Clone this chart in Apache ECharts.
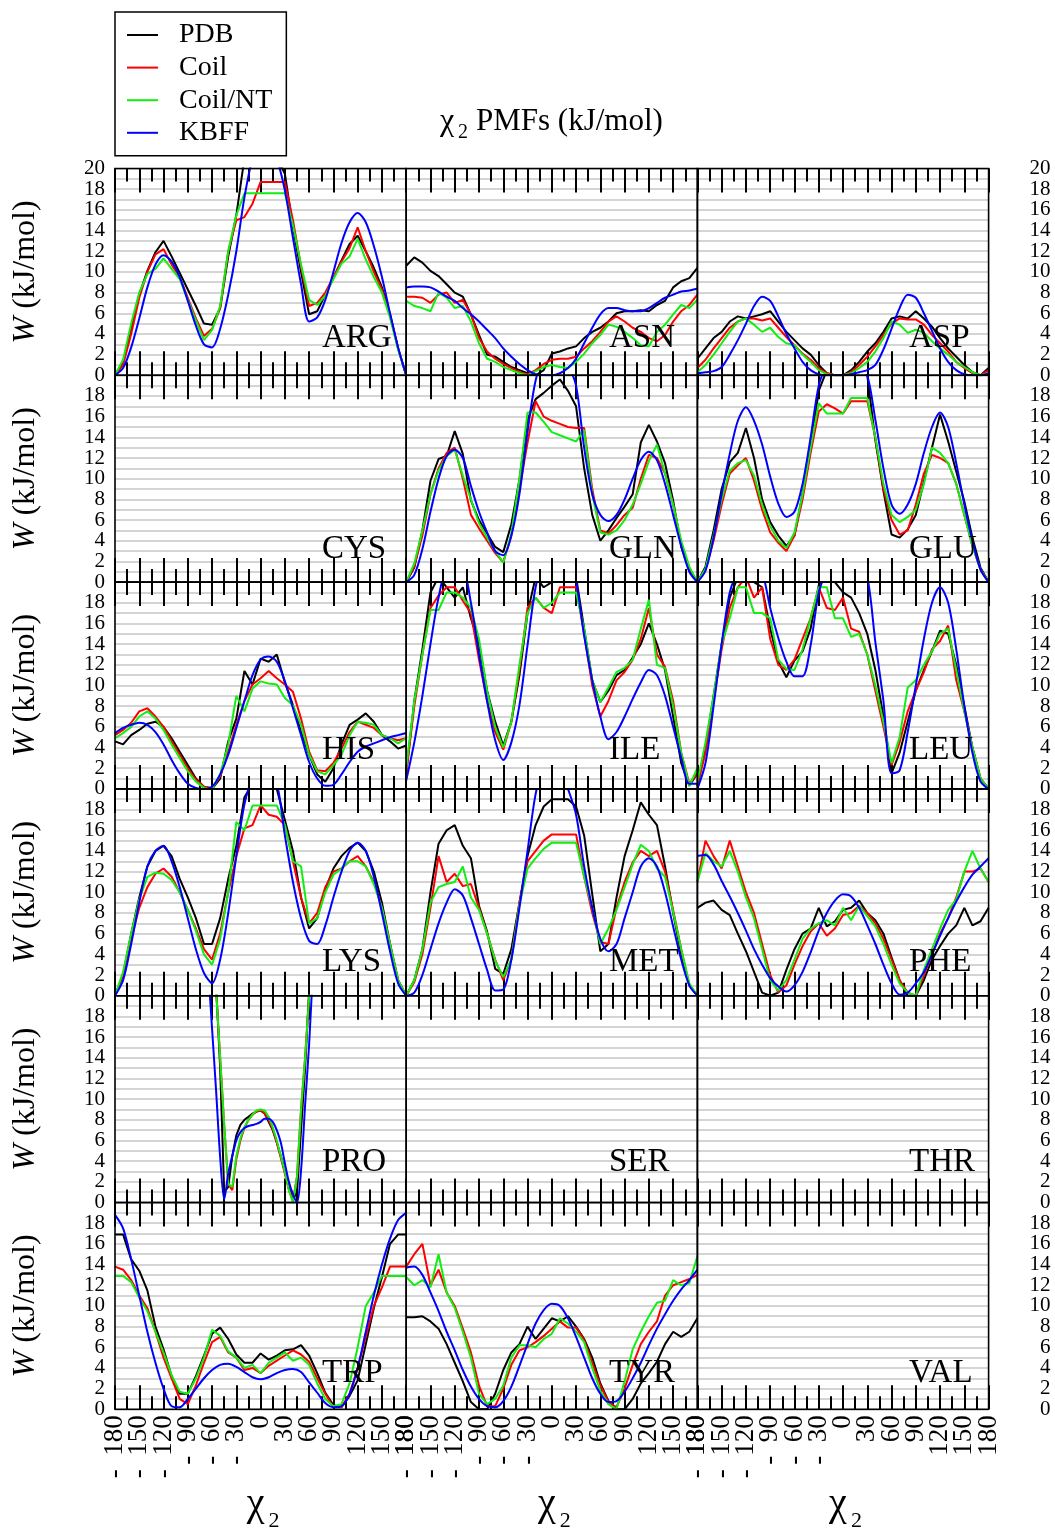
<!DOCTYPE html>
<html>
<head>
<meta charset="utf-8">
<script src="https://cdn.jsdelivr.net/npm/echarts@6/dist/echarts.min.js"></script>
<style>
  html, body { margin: 0; padding: 0; background: #fff; }
  #chart { width: 1055px; height: 1529px; }
</style>
</head>
<body>
<div id="chart"></div>
<script>
// chi2 angles (deg) used for the sampled curves
const chi = [-180,-170,-160,-150,-140,-130,-120,-110,-100,-90,-80,-70,-60,-50,-40,-30,-20,-10,0,
             10,20,30,40,50,60,70,80,90,100,110,120,130,140,150,160,170,180];
// proline only has a narrow window, sampled finer
const chiPro = [-70,-65,-60,-55,-50,-45,-40,-35,-30,-25,-20,-15,-10,-5,0,5,10,15,20,25,30,35,40,45,50,55,60,65,70];

const seriesNames = ['PDB', 'Coil', 'Coil/NT', 'KBFF'];
const residues = ['ARG','ASN','ASP','CYS','GLN','GLU','HIS','ILE','LEU','LYS','MET','PHE','PRO','SER','THR','TRP','TYR','VAL'];

// ---- W (kJ/mol) values ----
const argPdb    = [0,1.3,4.6,7.8,10.1,11.9,13.0,11.5,9.9,8.3,6.7,5.0,4.9,6.5,11.5,15.5,21,22,22,22,21,19.5,14.3,10,5.9,6.2,7.8,9.4,11.1,12.7,13.5,12,10.4,8.5,5.9,2.6,0];
const argCoil   = [0,1,4,7.5,10,11.7,12.2,10.7,9.5,7.5,5.5,3.8,4.5,6.5,12,15,15.3,16.6,18.7,18.7,18.7,18.7,15,10.5,6.7,7,8,9.5,11,12.3,14.3,12,10,8.3,5.8,2.6,0];
const argCoilNt = [0,1.5,5,8,9.8,10.3,11.3,10.3,9.3,7.3,5.3,3.4,4.4,6.7,12,15.5,17.6,17.6,17.6,17.6,17.6,17.6,14.5,10.7,7.3,6.8,7.7,9.3,10.8,11.5,13.2,11.2,9.5,8,5.6,2.5,0];
const argKbff   = [0,0.7,2.7,5.5,8.5,10.7,11.6,11,9.5,7.2,4.8,3.0,2.7,4.5,7.8,12,17.2,21,23,23,21,17.9,13.3,8.8,5.2,5.6,7.3,10,12.8,14.8,15.7,14.8,12.5,9.5,6,2.7,0];

const asnPdb    = [10.6,11.4,10.9,10.1,9.6,8.8,8.0,7.6,5.9,3.9,2.0,1.8,1.3,0.8,0.5,0.2,0,0.5,2.1,2.3,2.6,2.8,3.6,4.2,4.6,5.2,6.0,6.2,6.2,6.3,6.2,6.8,7.2,8.5,9.1,9.4,10.4];
const asnCoil   = [7.6,7.6,7.5,7.0,7.8,8.0,7.0,7.3,5.9,3.6,2.3,1.6,1.1,0.7,0.3,0.1,0.5,1.1,1.5,1.6,1.6,1.8,2.6,3.3,4.2,5.2,5.7,5.2,4.6,4.2,3.6,3.3,3.9,5.2,6.2,6.8,7.8];
const asnCoilNt = [7.2,6.7,6.5,6.2,8.0,7.5,6.5,6.7,5.2,3.1,1.6,1.3,0.8,0.5,0.2,0,0.4,0.8,1.0,0.8,0.7,1.3,2.1,3.1,3.9,4.9,4.7,4.2,3.6,2.9,2.8,4.2,4.9,5.9,6.8,6.5,7.3];
const asnKbff   = [8.5,8.6,8.6,8.5,8.1,7.6,7.2,6.5,5.9,5.2,4.4,3.6,2.6,1.8,1.1,0.5,0.1,0,0,0.2,0.7,1.6,3.1,4.6,5.9,6.5,6.5,6.3,6.2,6.2,6.5,7.0,7.5,7.8,8.1,8.2,8.4];

const aspPdb    = [1.6,2.6,3.6,4.2,5.2,5.7,5.5,5.7,5.9,6.2,5.2,4.2,3.4,2.6,2.0,1.0,0.2,0,0,0.5,1.3,2.3,3.1,4.2,5.5,5.7,5.5,6.2,5.5,4.7,3.6,2.6,1.8,1.0,0.3,0,0.7];
const aspCoil   = [0.7,1.5,2.6,3.6,4.6,5.2,5.5,5.5,5.3,5.5,4.6,3.7,2.9,2.1,1.5,0.7,0.2,0,0,0.3,1.0,1.8,2.8,3.9,5.0,5.5,5.4,5.4,4.9,3.9,3.1,2.3,1.3,0.7,0.2,0,0.5];
const aspCoilNt = [0.3,1.0,2.0,3.1,4.2,5.2,5.5,4.9,4.2,4.6,3.7,3.1,2.9,2.0,1.3,0.5,0.1,0,0,0.2,0.7,1.3,2.3,3.6,5.2,4.9,4.1,4.4,4.1,3.3,2.6,2.0,1.3,0.8,0.3,0,0.2];
const aspKbff   = [0.2,0.3,0.4,0.8,2.0,3.4,5.0,6.7,7.6,7.2,5.7,4.0,2.6,1.3,0.5,0.1,0,0,0,0.1,0.3,0.5,1.0,2.5,4.5,6.5,7.8,7.5,6.0,4.3,2.6,1.3,0.5,0.1,0,0,0.2];

const glnPdb    = [0,1.4,5.0,9.8,11.9,12.2,14.6,12.4,7.9,6.0,4.7,3.4,2.9,5.6,9.9,15.7,17.7,18.3,19.0,19.6,18.5,17,11,6.5,4.0,5.0,6.2,7.3,8.5,13.5,15.2,13.6,11.5,7.9,3.4,1.1,0];
const glnCoil   = [0,1.5,4.5,8.5,11,12.5,13.0,10,6.5,5.2,4.0,2.8,1.9,4.5,9,13.5,17.5,16,15.6,15.3,15.0,14.9,14.9,9,5.0,4.7,5.5,6.5,7.2,10,12.3,12,10.5,7.5,3.7,1.3,0];
const glnCoilNt = [0,1.8,5.0,8.5,10.8,12.2,12.8,10.3,8,5.7,4.3,3.0,1.9,4.7,10,16.4,16.4,15.5,14.5,14.2,13.9,13.6,14.7,8.5,4.8,4.6,5.0,6.0,7.5,9.5,11.7,13.3,10.5,7.5,4,1.5,0];
const glnKbff   = [0,0.7,3.2,6.8,10,12.2,12.8,12,9.3,6.8,4.8,3.0,2.6,4.5,8.5,14.5,19.5,21.5,22,22,21,19,13,8.5,6.5,5.9,6.5,8,10,11.8,12.6,11.8,9.5,6.5,3.5,1.0,0];

const gluPdb    = [0,1.5,5,9,11.6,12.5,14.9,12,8,5.8,4.5,3.5,4.5,8.5,13,18.5,20.5,21,21,21,21,20,13.7,8.8,4.6,4.3,5.1,6.5,9.7,13,16.2,13.6,10.7,7.8,4.3,1.4,0];
const gluCoil   = [0,1.2,4,7.5,10.5,11.3,12.0,9.8,7,4.8,3.8,3.0,4.5,8,12.5,16.5,17.2,16.8,16.3,17.5,17.5,17.5,14,9,6,4.6,5.0,7.5,10.5,12.3,12,11.5,9.5,6.5,3.5,1.2,0];
const gluCoilNt = [0,1.3,4.5,8,10.8,11.5,11.8,10.3,7.5,5.4,4.0,3.3,4.8,8.5,13,17.3,16.3,16.3,16.3,17.8,17.8,17.8,14,9.5,6.5,5.8,6.3,7.0,9.5,13,12.5,11.5,9.5,6.5,3.5,1.2,0];
const gluKbff   = [0,1.1,4.3,8.5,12.4,15.6,16.9,15.6,13.3,10.2,7.6,6.3,6.8,9.5,14,19,21,22,22,22,21,20,15.7,11,7.5,6.6,7.5,9.5,12.5,15,16.4,15,11.5,7.5,4,1.2,0];

const hisPdb    = [4.6,4.3,5.2,5.7,6.3,6.5,6.0,4.9,3.6,2.3,1.0,0.2,0,1.0,4.6,6.8,11.4,10.1,12.6,12.3,13.0,10.3,8.1,5.5,3.3,1.4,0.7,2.0,4.3,6.2,6.7,7.3,6.5,5.2,4.6,3.9,4.2];
const hisCoil   = [5.2,5.7,6.4,7.5,7.8,7.0,6.0,4.6,3.3,2.0,0.9,0.2,0.1,1.2,3.6,6.2,8.5,10.1,10.7,11.4,10.7,10.1,9.4,6.8,3.6,1.8,1.7,2.5,3.9,5.5,6.5,6.2,5.9,5.2,4.9,4.7,4.9];
const hisCoilNt = [4.9,5.4,6.0,7.0,7.5,6.8,5.7,4.3,3.0,1.7,0.7,0.1,0,1.4,4.3,9.0,7.5,9.7,10.4,10.2,10.1,8.8,8.1,6.2,3.3,1.7,1.4,2.3,3.3,5.2,6.5,6.4,6.2,5.2,4.9,4.4,4.9];
const hisKbff   = [5.4,5.9,6.2,6.4,6.2,5.5,4.3,2.8,1.5,0.5,0.1,0,0.2,1.4,3.3,5.9,8.5,11.0,12.5,12.8,12.3,10.4,7.8,5.2,2.6,1.0,0.3,0.4,1.4,2.6,3.6,4.1,4.4,4.7,5.0,5.2,5.4];

const ilePdb    = [1.5,8.5,13.5,19,20.5,19.5,18.5,19.5,16.5,14,9.5,6.5,4.2,6.5,11,17,20.5,19.5,20,20,20,20.5,15.5,10.5,8.4,9.5,11,11.5,12.7,14,16,14,11.5,7,2.5,0.3,1.5];
const ileCoil   = [1.5,8,13,17.5,18.7,19.5,19.5,18.2,17,12.5,8.5,5.5,3.8,6.5,11.5,17.5,18.5,17.5,17.0,19.5,19.5,19.5,15,10,7,8.5,10.5,11.3,12.5,14.5,17.5,13,11.8,8.5,3.5,0.5,1.5];
const ileCoilNt = [2,8.5,13,17.3,17.3,19,19,18.5,17.5,14.5,9.5,6,4.0,6.5,12,17,18.5,17.5,18.0,19,19,19,15.5,10.5,8.4,9.8,11.3,11.7,12.5,15.5,18.3,12,11.7,8,3.5,0.3,2];
const ileKbff   = [0.8,4.5,9,14,18.5,21,21,21,18,13,8.5,4.7,2.8,4.5,8.1,13.9,19.5,22,23,23,22,20,14.8,10.5,7,4.8,5.5,7,8.7,10.3,11.5,11,9,6,3,0.5,0.5];

const leuPdb    = [0.3,4,9,14,18.5,20.5,20.5,20,19.5,15.5,12.3,10.8,12.4,13.3,15.5,19.7,21,20,19,18.5,17,15,11.5,7,1.5,3.5,6.5,9.5,11.5,13.3,15.3,15,12,8,4,1.0,0];
const leuCoil   = [0.3,3.5,8.5,13.5,17.5,19.5,20.5,18.5,19.5,14.5,12,11.5,12.5,14.5,16.5,19.5,17.5,17.3,18.5,15.5,15.2,13,9.5,6,2.3,4.5,7.5,9.5,11.3,13.5,14.3,15.8,10.5,7.5,4,1.0,0];
const leuCoilNt = [0.7,4.5,9,14,16.5,19.5,19.5,17,17,16.5,12.5,11.6,11.5,13.5,16.5,19.5,19.5,16.5,16.5,14.7,15,13,10,6.5,2.5,5,9.8,10.5,12,13.3,15,15.5,11.5,7.5,4.0,1.0,0];
const leuKbff   = [0,2.5,8,14,19,21,22,22,21,17.5,14.6,12.3,10.9,10.9,13.9,19,21,22,22,22,21.5,20.5,14.2,8.5,1.5,1.8,5.5,10,14.5,18,19.5,18,13.5,8,3.5,0.7,0];

const lysPdb    = [0,2,6,9.5,12.5,14,14.5,13.5,11.3,9.5,7.5,5,5,7.5,11.3,14.5,19.2,20.5,20,20.5,20,17,14,9.5,6.5,7.5,10.3,12.3,13.5,14.3,14.8,14,12,9,5,1.5,0];
const lysCoil   = [0,2,5.5,8.5,10.5,11.8,12.3,11.5,10,8.3,6.5,4.5,3.5,6,10,13.5,16.2,16.5,18.4,17.5,17.3,16.5,13,9.5,7.0,8,10.5,12,12.3,13,13.5,12.5,11,8.5,5,1.5,0];
const lysCoilNt = [0,2.3,6,9.3,11.5,11.9,11.8,11.2,10,8.3,6.3,4,3.0,5.5,10,16.8,16,18.4,18.4,18.4,18.4,16.5,13,12.5,7.0,7.5,10,11.7,12.3,13,13,12.5,10.8,8.5,5,1.5,0];
const lysKbff   = [0,1.5,5,9,12.5,14,14.5,13,10.5,7.5,4.5,2.2,1.2,3.5,8,13.5,18.5,21,22,21,20.5,15.5,11,7.5,5.3,5.0,6.8,9.5,12,14,14.8,14,11.5,8,4.3,1.2,0];

const metPdb    = [0,1.5,4.5,10,14.7,16,16.5,14.5,13.3,8.7,6.2,2.6,2.1,4.5,9,13.5,16.5,18.3,19,19,19,18.3,15.5,9.8,4.3,5,9.5,13.5,16,18.7,17.5,16.5,12.5,8,4,1,0];
const metCoil   = [0,1.3,4.0,8.5,13.5,11,11.8,10.6,10.8,8.5,6,3.5,1.5,3.5,9,13,14,15,15.6,15.6,15.6,15.6,11.5,8,5.2,5,8.5,11,12.9,14,13.5,14,12,8.3,4.5,1,0];
const metCoilNt = [0,1.5,4.5,9,10.5,10.8,11,12.5,9.5,8.3,6.0,3.4,1.8,3.5,8.8,12.3,13.3,14.2,14.8,14.8,14.8,14.8,11.5,8.5,5.0,6.5,8.3,10.5,12.7,14.6,14,12.3,11.5,8.1,4.5,1.2,0];
const metKbff   = [0,0.3,2,4.5,7,9,10.3,9.7,7.5,5,2.5,0.5,0.6,3.5,8.5,14,19.5,22,23,22,20,17.5,12.5,8.5,5.5,4.3,5,7.5,10,12.5,13.3,12.5,10,6.7,3.5,1,0];

const phePdb    = [8.5,9,9.2,8.3,7.8,6,4.3,2.3,0.3,0,0.3,2.5,4.5,6.0,6.5,8.5,6.7,7.2,8.3,8.5,9.2,8,7.3,6,3.7,1.5,0,0,1.5,3.5,4.8,6,6.8,8.5,6.8,7.2,8.5];
const pheCoil   = [11,15,13.5,12.3,15,12.5,10,8,5,2,0.3,1,3,4.8,6.2,7.0,5.8,6.5,7.8,8,8.7,8.0,7.0,5.5,3.5,1.5,0.3,0,2,4,6,7.5,9.5,12,12,12.3,11];
const pheCoilNt = [11,13.8,13,12.5,14,12,9.5,7.5,4.5,1.5,0.5,1.5,3.5,5.5,6.5,7.0,7.3,6.8,8.5,7.3,8.7,7.7,6.7,5.0,3.0,1.2,0.3,0,2.5,4.5,6.5,8.3,9.3,12,14,12.3,11];
const pheKbff   = [13.5,13.6,12.7,11.1,9.6,8,6.3,4.5,3,1.7,0.9,0.4,1,2.3,4.2,6.3,8.0,9.2,9.8,9.6,8.5,6.8,5,3,1.2,0.1,0.3,1.2,2.3,4.0,5.8,7.5,9.1,10.5,11.7,12.5,13.3];

const proPdb    = [30,30,27,21,13,1,1.5,4.5,6.5,7.5,8,8.3,8.6,8.8,8.9,8.6,7.8,7,5.8,4.5,3,1.5,0.3,1,7,13,20.5,27,30];
const proCoil   = [30,30,27,20.5,14,7.5,1.8,1.2,4.2,6,7.2,8,8.5,8.8,8.9,8.6,8.0,7.1,5.8,4.3,2.8,1.2,0.2,2.5,9,14,20,27,30];
const proCoilNt = [30,30,27,20.5,14,7.5,1.8,1.5,4.5,6.2,7.3,8,8.5,8.9,9.0,8.9,8.3,7.3,6,4.5,3.0,1.2,0,2.5,9,14,20,27,30];
const proKbff   = [30,23,16.8,10.8,4.4,0.3,2.8,4.5,6,6.8,7.2,7.4,7.5,7.6,7.8,8.1,8.1,7.8,7.0,5.8,3.8,2.0,0.8,0,3.1,9.4,15.3,23,30];

const trpPdb    = [16.9,16.9,14.5,13.4,11.5,8,5.8,3.2,1.5,1.5,3.2,5.2,7.3,7.9,6.8,5.3,4.5,4.5,5.4,4.8,5.2,5.7,5.8,6.2,5.2,3.5,1.6,0.4,0.2,1.3,2.8,6.3,9.8,12.8,16.0,16.9,16.9];
const trpCoil   = [13.8,13.5,12.5,11,9.8,7.5,5,3,1,0.5,2.3,4.5,6.5,7.0,5.5,5.0,3.8,4.0,3.5,4.2,4.7,5.2,5.7,5.3,4.6,3.0,1.5,0.2,0.2,1.5,4,7,10,11.8,13.8,13.8,13.8];
const trpCoilNt = [12.9,12.9,12.3,10.8,9.5,7.5,5.5,3.3,1.7,1.5,3.0,5,7.7,7.1,5.6,5.0,4.0,4.3,3.5,4.5,5.0,5.5,4.7,5.0,4.3,2.5,1.0,0.3,0.5,2.5,6,10,11.3,12.9,12.9,12.9,12.9];
const trpKbff   = [18.8,17.5,14.5,11,7.5,4.5,2.0,0.3,0.2,1.0,2.0,3.0,3.8,4.3,4.4,4.1,3.6,3.1,2.9,3.1,3.5,3.8,3.9,3.6,2.6,1.6,0.6,0.2,0.3,1.5,4,7.5,11,14,16.5,18.3,19];

const tyrPdb    = [8.9,8.9,9,8.5,7.8,6.3,4.5,2.7,0.7,0,0,1.5,3.8,5.5,6.3,8,6.8,7.8,8.8,8.5,9.0,8,6.8,5,2.5,0.8,0,0,1,2.5,3.5,4.6,6.3,7.5,7.0,7.5,8.8];
const tyrCoil   = [13.8,15,16,12,13.5,11.3,10,7.8,5.5,2.3,0.3,0.3,2.0,4.3,5.7,6.0,6.5,7.1,7.8,8.5,7.9,7.9,6.7,4.5,2.3,0.7,0.2,2,4.3,6.3,7.5,8.5,11,12,12.3,12.6,13.0];
const tyrCoilNt = [12.8,12,12.5,11.8,15,11.3,9.8,7.5,5.0,1.5,0.5,1.0,2.3,5.0,6.2,6.2,6.0,6.8,7.3,8.8,8.3,7.5,6.5,4.0,1.8,0.5,0,2.7,5.8,7.5,9.0,10.3,10.5,12.5,12,12.2,14.8];
const tyrKbff   = [13.7,13.8,13,11.3,9.5,7.5,5.7,3.8,2.2,1.0,0.3,0.2,0.8,2.2,4.2,6.3,8.3,9.6,10.2,10,8.8,7.0,5.0,3,1.5,0.7,0.8,1.7,3.0,4.5,6.2,7.8,9.2,10.5,11.6,12.5,13.5];

// panels that have curves: [x values, PDB, Coil, Coil/NT, KBFF]
const panelData = {
  ARG: [chi, argPdb, argCoil, argCoilNt, argKbff],
  ASN: [chi, asnPdb, asnCoil, asnCoilNt, asnKbff],
  ASP: [chi, aspPdb, aspCoil, aspCoilNt, aspKbff],
  GLN: [chi, glnPdb, glnCoil, glnCoilNt, glnKbff],
  GLU: [chi, gluPdb, gluCoil, gluCoilNt, gluKbff],
  HIS: [chi, hisPdb, hisCoil, hisCoilNt, hisKbff],
  ILE: [chi, ilePdb, ileCoil, ileCoilNt, ileKbff],
  LEU: [chi, leuPdb, leuCoil, leuCoilNt, leuKbff],
  LYS: [chi, lysPdb, lysCoil, lysCoilNt, lysKbff],
  MET: [chi, metPdb, metCoil, metCoilNt, metKbff],
  PHE: [chi, phePdb, pheCoil, pheCoilNt, pheKbff],
  PRO: [chiPro, proPdb, proCoil, proCoilNt, proKbff],
  TRP: [chi, trpPdb, trpCoil, trpCoilNt, trpKbff],
  TYR: [chi, tyrPdb, tyrCoil, tyrCoilNt, tyrKbff]
};

const colors = ['#000000', '#ff0000', '#11ee11', '#0000ff'];
const serif = 'Liberation Serif';

// panel geometry
const X0 = 115, Y0 = 168.5, PW = 291.2, PH = 206.8;
const labelX = [322, 609, 909];
const labelY = [338, 549, 750, 962, 1162, 1373];

const grids = [], xAxes = [], yAxes = [], series = [], graphics = [], extraAxes = [];

// R-style labels: minus sign set apart from the digits
const angleText = v => (v < 0 ? '-\u2002' + Math.abs(v) : String(v));
const bottomLabel = (keep) => ({
  show: true, rotate: 90, margin: 6, color: '#000', fontFamily: serif, fontSize: 27,
  hideOverlap: false,
  showMinLabel: keep, showMaxLabel: keep,
  formatter: v => ((Math.abs(v) === 180) === keep ? angleText(v) : '')
});

for (let r = 0; r < 6; r++) {
  for (let c = 0; c < 3; c++) {
    const i = r * 3 + c;
    grids.push({
      left: X0 + c * PW, top: Y0 + r * PH, width: PW, height: PH,
      show: false, outerBoundsMode: 'none'
    });
    const tickAxis = (pos, labels) => ({
      gridIndex: i, type: 'value', position: pos, min: -180, max: 180, interval: 30,
      axisLine: { show: false },
      axisTick: { show: true, inside: true, length: 24, lineStyle: { color: '#000', width: 2 } },
      minorTick: { show: true, splitNumber: 2, length: 13, lineStyle: { color: '#000', width: 2 } },
      splitLine: { show: false },
      axisLabel: labels ? bottomLabel(false) : { show: false }
    });
    xAxes.push(tickAxis('bottom', r === 5));
    xAxes.push(tickAxis('top', false));
    if (r === 5) {
      // second bottom axis that only carries the -180 / 180 end labels
      extraAxes.push({
        gridIndex: i, type: 'value', position: 'bottom', min: -180, max: 180, interval: 30,
        axisLine: { show: false }, axisTick: { show: false }, splitLine: { show: false },
        axisLabel: bottomLabel(true)
      });
    }

    yAxes.push({
      gridIndex: i, type: 'value', min: 0, max: 20, interval: 1,
      position: c === 2 ? 'right' : 'left',
      axisLine: { show: false },
      axisTick: { show: false },
      splitLine: { show: true, lineStyle: { color: '#d4d4d4', width: 2 } },
      axisLabel: c === 1 ? { show: false } : {
        show: true, color: '#000', fontFamily: serif, fontSize: 21,
        margin: c === 2 ? 62 : 10, align: 'right', hideOverlap: false,
        formatter: v => (v % 2 === 0 && (r === 0 || v < 20) ? String(v) : '')
      }
    });

    const res = residues[i];
    const pd = panelData[res];
    if (pd) {
      for (let k = 0; k < 4; k++) {
        series.push({
          name: seriesNames[k], type: 'line', xAxisIndex: 2 * i, yAxisIndex: i,
          data: pd[0].map((x, j) => [x, pd[k + 1][j]]),
          showSymbol: false, symbol: 'none', clip: true, animation: false,
          smooth: k === 3 ? 0.3 : false,
          lineStyle: { color: colors[k], width: 2 }, itemStyle: { color: colors[k] },
          z: 3 + k
        });
      }
    }

    // panel frame above the grey rules
    graphics.push({
      type: 'rect', z: 15, silent: true,
      shape: { x: X0 + c * PW, y: Y0 + r * PH, width: PW, height: PH },
      style: { fill: 'none', stroke: '#000', lineWidth: 1.6 }
    });
    graphics.push({
      type: 'text', x: labelX[c], y: labelY[r], z: 20,
      style: { text: res, font: '33px "' + serif + '"', fill: '#000', align: 'left', verticalAlign: 'middle' }
    });
  }
  // row axis title
  graphics.push({
    type: 'text', x: 26, y: Y0 + r * PH + PH / 2, rotation: Math.PI / 2, z: 20,
    style: {
      text: '{i|W} (kJ/mol)', font: '32px "' + serif + '"', fill: '#000', align: 'center', verticalAlign: 'middle',
      rich: { i: { fontStyle: 'italic', fontFamily: serif, fontSize: 32, fill: '#000' } }
    }
  });
}

// column axis titles chi_2
for (let c = 0; c < 3; c++) {
  const cx = X0 + c * PW + PW / 2;
  graphics.push({ type: 'text', x: cx - 5, y: 1504, z: 20,
    style: { text: 'χ', font: '40px "' + serif + '"', fill: '#000', align: 'center', verticalAlign: 'middle' } });
  graphics.push({ type: 'text', x: cx + 8, y: 1521, z: 20,
    style: { text: '2', font: '22px "' + serif + '"', fill: '#000', align: 'left', verticalAlign: 'middle' } });
}

// title
graphics.push({ type: 'text', x: 440, y: 122, z: 20,
  style: { text: 'χ', font: '32px "' + serif + '"', fill: '#000', align: 'left', verticalAlign: 'middle' } });
graphics.push({ type: 'text', x: 458, y: 133, z: 20,
  style: { text: '2', font: '20px "' + serif + '"', fill: '#000', align: 'left', verticalAlign: 'middle' } });
graphics.push({ type: 'text', x: 476, y: 122, z: 20,
  style: { text: 'PMFs (kJ/mol)', font: '31px "' + serif + '"', fill: '#000', align: 'left', verticalAlign: 'middle' } });

const chart = echarts.init(document.getElementById('chart'));
chart.setOption({
  animation: false,
  backgroundColor: '#fff',
  legend: {
    data: seriesNames, orient: 'vertical', left: 115, top: 12,
    padding: [9, 14, 9, 12], itemGap: 4.6, itemWidth: 31, itemHeight: 2, icon: 'rect',
    borderColor: '#000', borderWidth: 1.5, backgroundColor: '#fff',
    textStyle: { fontFamily: serif, fontSize: 28, color: '#000', padding: [0, 0, 0, 16] }
  },
  grid: grids,
  xAxis: xAxes.concat(extraAxes),
  yAxis: yAxes,
  series: series,
  graphic: graphics
});
</script>
</body>
</html>
